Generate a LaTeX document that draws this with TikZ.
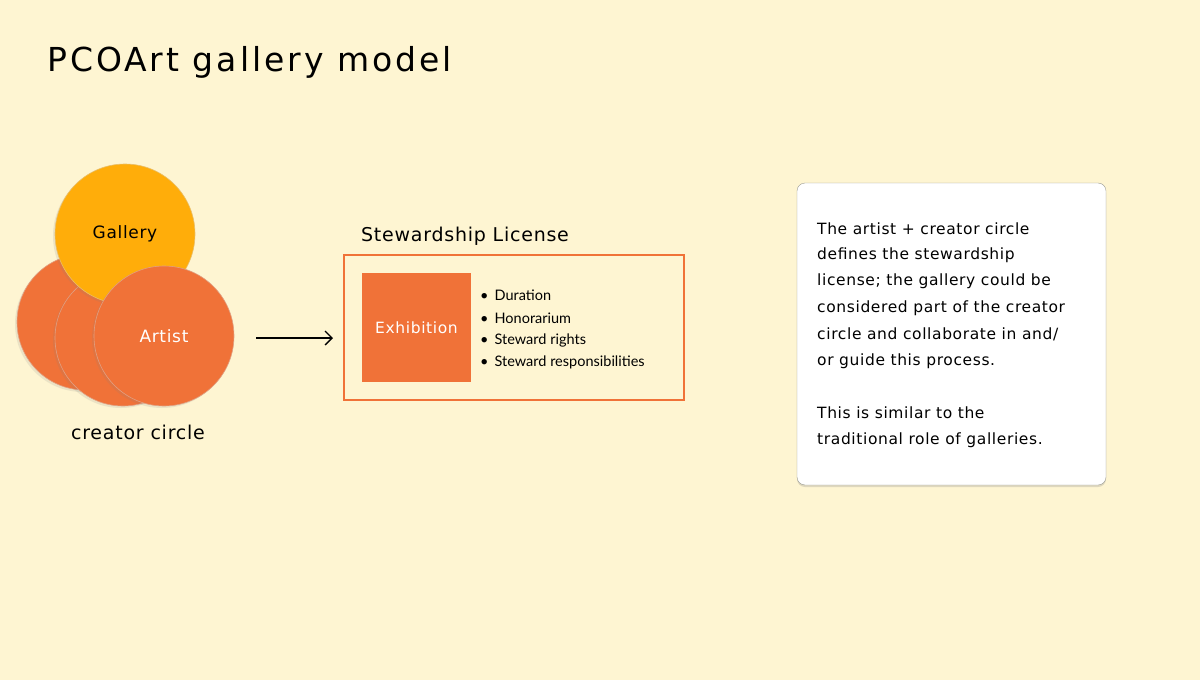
\documentclass[tikz,border=0pt]{standalone}
\usepackage{fontspec}
\setmainfont{DejaVu Sans}[LetterSpace=4]
\newfontfamily\titlefont{DejaVu Sans}[LetterSpace=9]
\newfontfamily\listfont{Lato}
\usetikzlibrary{positioning,shadows,arrows.meta}
\definecolor{bgcream}{HTML}{FEF5D2}
\definecolor{mainorange}{HTML}{F07238}
\definecolor{galleryyellow}{HTML}{FFAD0A}
\definecolor{boxborder}{HTML}{9A9A90}
\tikzset{
  member/.style={circle, minimum size=140pt, inner sep=0pt, fill=mainorange, draw=mainorange!85!black!60, line width=0.6pt,
    drop shadow={shadow xshift=-2pt, shadow yshift=-2pt, opacity=0.15}, font=\fontsize{17}{20}\selectfont, text=white},
  listitem/.style={anchor=west, inner sep=0pt, font=\listfont\fontsize{14.5}{16}\selectfont},
  note/.style={anchor=west, inner sep=0pt, font=\fontsize{15.5}{18}\selectfont}
}
\begin{document}
\begin{tikzpicture}[x=1pt,y=-1pt]
    % Background
    \fill[bgcream] (0,0) rectangle (1200,680);
    \useasboundingbox (0,0) rectangle (1200,680);
    \node[anchor=west, inner sep=0pt, font=\titlefont\fontsize{33}{40}\selectfont] (title) at (47,62) {PCOArt gallery model};

    % Creator circle
    \node[member, minimum size=136pt] (back) at (85,322) {};
    \node[member, minimum size=136pt] (middle) at (123,338) {};
    \node[member, fill=galleryyellow, draw=galleryyellow!85!black!60, text=black] (gallery) at (125,234) {Gallery};
    \node[member] (artist) at (164,336) {Artist};
    \node[font=\fontsize{19}{24}\selectfont] (creator) at (138,432) {creator circle};

    % Arrow
    \coordinate (arrowstart) at (256,338);
    \coordinate (arrowend) at (333,338);
    \draw[-{Straight Barb[length=7pt,width=14pt]}, line width=1.4pt] (arrowstart) -- (arrowend);

    % License
    \node[font=\fontsize{19}{23}\selectfont] (lictitle) at (465,236) {Stewardship License};
    \draw[mainorange, line width=2pt] (344,255) rectangle (684,400);
    \node[fill=mainorange, minimum size=109pt, inner sep=0pt, text=white, font=\fontsize{15.5}{18}\selectfont] (exhibition) at (416.5,327.5) {Exhibition};
    \node[listitem] (d1) at (480,295) {•\hspace{6pt}Duration};
    \node[listitem] (d2) at (480,318) {•\hspace{6pt}Honorarium};
    \node[listitem] (d3) at (480,340) {•\hspace{6pt}Steward rights};
    \node[listitem] (d4) at (480,362) {•\hspace{6pt}Steward responsibilities};

    % Note box
    \draw[fill=white, draw=boxborder, rounded corners=8pt, drop shadow={shadow xshift=0pt, shadow yshift=-2pt, opacity=0.25}] (797,183) rectangle (1106,485);
    \node[note] (n1) at (817,229) {The artist + creator circle};
    \node[note] (n2) at (817,255) {defines the stewardship};
    \node[note] (n3) at (817,281) {license; the gallery could be};
    \node[note] (n4) at (817,308) {considered part of the creator};
    \node[note] (n5) at (817,334) {circle and collaborate in and/};
    \node[note] (n6) at (817,361) {or guide this process.};
    \node[note] (n7) at (817,413) {This is similar to the};
    \node[note] (n8) at (817,440) {traditional role of galleries.};
\end{tikzpicture}
\end{document}
